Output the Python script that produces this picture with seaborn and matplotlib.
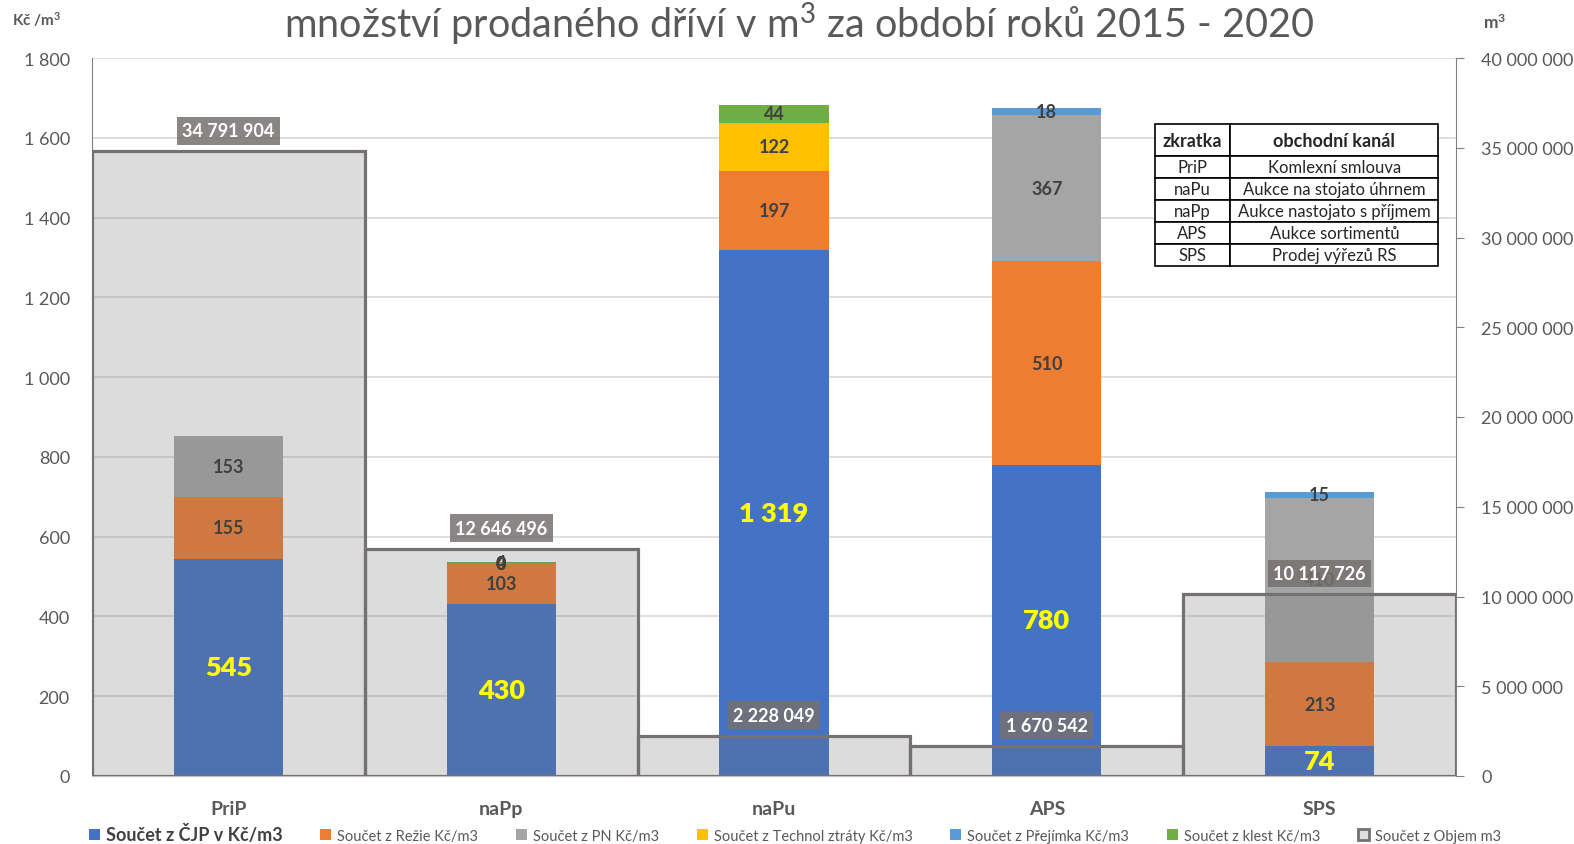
import numpy as np
import matplotlib.pyplot as plt
from matplotlib.patches import Patch
import seaborn as sns

# data
categories = ["PriP", "naPp", "naPu", "APS", "SPS"]
cjp = [545, 430, 1319, 780, 74]
rezie = [155, 103, 197, 510, 213]
pn = [153, 0.4, 0, 367, 410]
technol = [0, 0.3, 122, 0, 0]
prejimka = [0, 0, 0, 18, 15]
klest = [0, 4, 44, 0, 0]
objem = [34791904, 12646496, 2228049, 1670542, 10117726]

# which segments get a data label
show_pn = [True, True, False, True, True]
show_technol = [False, True, True, False, False]
show_prejimka = [False, False, False, True, True]
show_klest = [False, True, True, False, False]

series_names = ["Součet z ČJP v Kč/m3", "Součet z Režie Kč/m3", "Součet z PN Kč/m3",
                "Součet z Technol ztráty Kč/m3", "Součet z Přejímka Kč/m3", "Součet z klest Kč/m3"]
objem_name = "Součet z Objem m3"
table_header = ["zkratka", "obchodní kanál"]
table_abbr = ["PriP", "naPu", "naPp", "APS", "SPS"]
table_channel = ["Komlexní smlouva", "Aukce na stojato úhrnem", "Aukce nastojato s příjmem",
                 "Aukce sortimentů", "Prodej výřezů RS"]

colors = ["#4472C4", "#ED7D31", "#A5A5A5", "#FFC000", "#5B9BD5", "#70AD47"]
txt_gray = "#595959"

sns.set_style("white")
plt.rcParams['font.family'] = ['Lato', 'DejaVu Sans']
plt.rcParams['mathtext.fontset'] = 'custom'
plt.rcParams['mathtext.rm'] = 'Lato'
plt.rcParams['mathtext.bf'] = 'Lato:bold'
plt.rcParams['mathtext.default'] = 'regular'


def fmt(v):
    return f"{v:,.0f}".replace(",", " ")


layers = np.array([cjp, rezie, pn, technol, prejimka, klest], dtype=float)
bottoms = layers.cumsum(axis=0) - layers
shows = [[True] * 5, [True] * 5, show_pn, show_technol, show_prejimka, show_klest]

fig = plt.figure(figsize=(15.74, 8.45), dpi=100)
ax = fig.add_axes([92 / 1574, 68 / 845, 1364 / 1574, 718 / 845])

# stacked bars (Kč/m3)
for vals, bot, col in zip(layers, bottoms, colors):
    sns.barplot(x=categories, y=vals, bottom=bot, color=col, saturation=1,
                width=0.4, errorbar=None, ax=ax, linewidth=0)

ax.set_ylim(0, 1800)
ax.set_yticks(np.arange(0, 1801, 200))
ax.yaxis.set_major_formatter(plt.FuncFormatter(lambda v, p: fmt(v)))
ax.yaxis.grid(True, color="#d9d9d9", linewidth=1.2)
ax.set_axisbelow(True)
ax.tick_params(axis="y", length=0, labelsize=13, labelcolor=txt_gray, pad=16)
ax.tick_params(axis="x", length=0, labelsize=14, labelcolor=txt_gray, pad=17)
for t in ax.get_xticklabels():
    t.set_fontweight("bold")
for s in ["top", "right"]:
    ax.spines[s].set_visible(False)
ax.spines["left"].set_color("#808080")
ax.spines["bottom"].set_color("#bfbfbf")

# objem on secondary axis, drawn on top semi-transparent
ax2 = ax.twinx()
sns.barplot(x=categories, y=objem, color="#707070", saturation=1, width=1.0,
            errorbar=None, ax=ax2)
for p in ax2.patches:
    p.set_facecolor((0.44, 0.44, 0.44, 0.24))
    p.set_edgecolor("#767171")
    p.set_linewidth(2.3)
ax2.set_ylim(0, 40000000)
ax2.set_xlim(-0.5, len(categories) - 0.5)
ax2.set_yticks(np.arange(0, 40000001, 5000000))
ax2.yaxis.set_major_formatter(plt.FuncFormatter(lambda v, p: fmt(v)))
ax2.tick_params(axis="y", length=6, color="#808080", labelsize=13, labelcolor=txt_gray, pad=12)
for s in ["top", "left", "bottom"]:
    ax2.spines[s].set_visible(False)
ax2.spines["right"].set_color("#808080")
ax2.set_ylabel("")

# segment labels (placed on top axes so they are over the overlay)
for k, (vals, bot, show) in enumerate(zip(layers, bottoms, shows)):
    for i in range(len(categories)):
        if not show[i]:
            continue
        y = bot[i] + vals[i] / 2
        if k == 0:
            ax2.text(i, y, fmt(vals[i]), transform=ax.transData, ha="center", va="center",
                     color="#FFFF00", fontsize=19.5, fontweight="heavy")
        else:
            ax2.text(i, y, fmt(vals[i]), transform=ax.transData, ha="center", va="center",
                     color="#404040", fontsize=13, fontweight="bold")

# objem labels
for i, v in enumerate(objem):
    ax2.annotate(fmt(v), xy=(i, v), xytext=(0, 15), textcoords="offset points",
                 ha="center", va="center", color="white", fontsize=13, fontweight="bold",
                 bbox=dict(boxstyle="square,pad=0.3", fc="#767171", ec="none", alpha=0.85))

# table with abbreviations
tbl = ax2.table(cellText=list(zip(table_abbr, table_channel)), colLabels=table_header,
                colWidths=[76, 208], cellLoc="center", bbox=[0.779, 0.710, 0.208, 0.198])
tbl.auto_set_font_size(False)
for (r, c), cell in tbl.get_celld().items():
    cell.set_edgecolor("black")
    cell.set_linewidth(1.2)
    cell.set_facecolor("white")
    if r == 0:
        cell.set_height(32)
        cell.get_text().set_fontweight("bold")
        cell.get_text().set_fontsize(13)
    else:
        cell.set_height(22)
        cell.get_text().set_fontsize(12)

# texts
fig.text(799 / 1574, 1 - 24 / 845, "množství prodaného dříví v m$^3$ za období roků 2015 - 2020",
         ha="center", va="center", fontsize=28.5, color=txt_gray)
fig.text(12 / 1574, 1 - 20 / 845, "Kč /m$^\\mathbf{3}$", ha="left", va="center", fontsize=11,
         fontweight="bold", color=txt_gray)
fig.text(1483 / 1574, 1 - 23 / 845, "m$^\\mathbf{3}$", ha="left", va="center", fontsize=12.5,
         fontweight="bold", color=txt_gray)

# legend
handles = [Patch(facecolor=c, edgecolor="none") for c in colors]
handles.append(Patch(facecolor="#dedede", edgecolor="#767171", linewidth=2))
leg = fig.legend(handles, series_names + [objem_name], loc="lower center",
                 bbox_to_anchor=(0.505, -0.014), ncol=7, frameon=False, fontsize=10.5,
                 handlelength=0.75, handleheight=0.75, handletextpad=0.4, columnspacing=2.6)
for t in leg.get_texts():
    t.set_color(txt_gray)
leg.get_texts()[0].set_fontweight("bold")
leg.get_texts()[0].set_fontsize(13)
leg.get_texts()[0].set_color("#404040")

plt.savefig("out.png", dpi=100)
